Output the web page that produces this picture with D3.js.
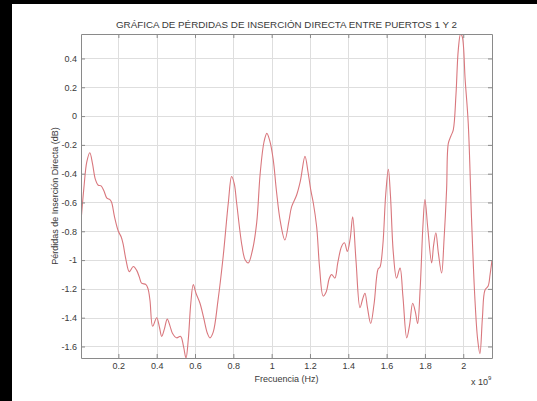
<!DOCTYPE html>
<html>
<head>
<meta charset="utf-8">
<script src="https://cdn.jsdelivr.net/npm/d3@7"></script>
<style>
  html, body { margin: 0; padding: 0; background: #fff; }
  svg { display: block; }
  text { font-family: "Liberation Sans", Arial, sans-serif; fill: #3a3a3a; }
</style>
</head>
<body>
<svg id="chart" width="537" height="401"></svg>
<script>
// Frequency samples (x 10^9 Hz)
const freq = [
  0.005, 0.02, 0.035, 0.051, 0.065, 0.08, 0.095, 0.11, 0.125, 0.14,
  0.156, 0.165, 0.18, 0.2, 0.215, 0.225, 0.24, 0.257, 0.278, 0.295,
  0.31, 0.321, 0.344, 0.355, 0.365, 0.379, 0.4, 0.415, 0.426, 0.44,
  0.455, 0.47, 0.483, 0.504, 0.525, 0.54, 0.553, 0.565, 0.578, 0.591,
  0.605, 0.626, 0.645, 0.665, 0.678, 0.695, 0.72, 0.747, 0.774, 0.791,
  0.805, 0.817, 0.845, 0.862, 0.878, 0.9, 0.922, 0.94, 0.96, 0.975,
  0.99, 1.008, 1.025, 1.045, 1.069, 1.09, 1.104, 1.13, 1.15, 1.174,
  1.19, 1.205, 1.217, 1.235, 1.25, 1.269, 1.285, 1.3, 1.313, 1.33,
  1.345, 1.365, 1.38, 1.395, 1.41, 1.423, 1.44, 1.461, 1.475, 1.487,
  1.5, 1.517, 1.535, 1.556, 1.565, 1.58, 1.595, 1.609, 1.62, 1.635,
  1.652, 1.67, 1.685, 1.705, 1.72, 1.736, 1.75, 1.762, 1.775, 1.79,
  1.8, 1.815, 1.835, 1.845, 1.857, 1.87, 1.887, 1.9, 1.913, 1.922,
  1.935, 1.948, 1.962, 1.974, 1.986, 1.995, 2.01, 2.026, 2.044, 2.06,
  2.075, 2.087, 2.1, 2.113, 2.13, 2.14, 2.15
];

// Forward insertion loss between ports 1 and 2 (dB)
const insertionLoss = [
  -0.73, -0.50, -0.32, -0.255, -0.33, -0.44, -0.48, -0.485, -0.52, -0.57,
  -0.58, -0.60, -0.70, -0.80, -0.84, -0.89, -1.00, -1.08, -1.045, -1.07,
  -1.12, -1.16, -1.17, -1.20, -1.28, -1.46, -1.40, -1.47, -1.53, -1.48,
  -1.41, -1.46, -1.51, -1.54, -1.53, -1.60, -1.68, -1.55, -1.30, -1.17,
  -1.23, -1.30, -1.40, -1.51, -1.54, -1.50, -1.28, -0.975, -0.60, -0.42,
  -0.47, -0.60, -0.90, -1.00, -1.02, -0.93, -0.74, -0.40, -0.18, -0.12,
  -0.17, -0.30, -0.52, -0.73, -0.86, -0.73, -0.63, -0.55, -0.45, -0.28,
  -0.39, -0.52, -0.60, -0.77, -1.05, -1.25, -1.22, -1.13, -1.10, -1.125,
  -1.02, -0.905, -0.88, -0.94, -0.85, -0.70, -1.00, -1.33, -1.27, -1.23,
  -1.33, -1.44, -1.30, -1.06, -1.05, -0.90, -0.55, -0.37, -0.55, -0.95,
  -1.125, -1.055, -1.25, -1.54, -1.45, -1.30, -1.36, -1.44, -1.20, -0.75,
  -0.58, -0.78, -1.02, -0.90, -0.81, -0.95, -1.09, -0.85, -0.51, -0.19,
  -0.14, -0.095, 0.15, 0.46, 0.57, 0.55, 0.25, -0.05, -0.74, -1.25,
  -1.55, -1.65, -1.40, -1.21, -1.18, -1.10, -1.00
];

const xTicks = [0.2, 0.4, 0.6, 0.8, 1, 1.2, 1.4, 1.6, 1.8, 2];
const yTicks = [-1.6, -1.4, -1.2, -1, -0.8, -0.6, -0.4, -0.2, 0, 0.2, 0.4];

const titleText = "GRÁFICA DE PÉRDIDAS DE INSERCIÓN DIRECTA ENTRE PUERTOS 1 Y 2";
const xLabel = "Frecuencia (Hz)";
const yLabel = "Pérdidas de Inserción Directa (dB)";

const W = 537, H = 401;
const plot = { left: 81, right: 492, top: 34, bottom: 358 };

const svg = d3.select("#chart");

// Figure frame: dark strips on the left and top
svg.append("rect").attr("x", 0).attr("y", 0).attr("width", W).attr("height", H).attr("fill", "#fff");
svg.append("rect").attr("x", 0).attr("y", 0).attr("width", 12).attr("height", H).attr("fill", "#000");
svg.append("rect").attr("x", 0).attr("y", 0).attr("width", W).attr("height", 4).attr("fill", "#000");

const x = d3.scaleLinear().domain(d3.extent(freq)).range([plot.left, plot.right]);
const y = d3.scaleLinear().domain(d3.extent(insertionLoss)).range([plot.bottom, plot.top]);

// Grid
const grid = svg.append("g").attr("stroke", "#dedede").attr("stroke-width", 1);
grid.selectAll(".gx").data(xTicks).join("line")
  .attr("x1", d => Math.round(x(d)) + 0.5).attr("x2", d => Math.round(x(d)) + 0.5)
  .attr("y1", plot.top).attr("y2", plot.bottom);
grid.selectAll(".gy").data(yTicks).join("line")
  .attr("y1", d => Math.round(y(d)) + 0.5).attr("y2", d => Math.round(y(d)) + 0.5)
  .attr("x1", plot.left).attr("x2", plot.right);

// Data line
svg.append("clipPath").attr("id", "clip").append("rect")
  .attr("x", plot.left).attr("y", plot.top)
  .attr("width", plot.right - plot.left).attr("height", plot.bottom - plot.top);

const line = d3.line()
  .x((d, i) => x(freq[i]))
  .y(d => y(d))
  .curve(d3.curveCatmullRom.alpha(0.5));

svg.append("path")
  .datum(insertionLoss)
  .attr("clip-path", "url(#clip)")
  .attr("fill", "none")
  .attr("stroke", "#d9777d")
  .attr("stroke-width", 1.1)
  .attr("d", line);

// Axes (ticks pointing inward, box on all sides)
const tickLen = 4;
const axisColor = "#8a8a8a";
const fmt = d => d3.format("~g")(d).replace("−", "-");

const xAxis = svg.append("g").attr("transform", `translate(0,${plot.bottom})`)
  .call(d3.axisBottom(x).tickValues(xTicks).tickSizeInner(-tickLen).tickSizeOuter(0).tickPadding(5)
    .tickFormat(fmt));
const xAxisTop = svg.append("g").attr("transform", `translate(0,${plot.top})`)
  .call(d3.axisTop(x).tickValues(xTicks).tickSizeInner(-tickLen).tickSizeOuter(0).tickFormat(""));
const yAxis = svg.append("g").attr("transform", `translate(${plot.left},0)`)
  .call(d3.axisLeft(y).tickValues(yTicks).tickSizeInner(-tickLen).tickSizeOuter(0).tickPadding(4)
    .tickFormat(fmt));
const yAxisRight = svg.append("g").attr("transform", `translate(${plot.right},0)`)
  .call(d3.axisRight(y).tickValues(yTicks).tickSizeInner(-tickLen).tickSizeOuter(0).tickFormat(""));

[xAxis, xAxisTop, yAxis, yAxisRight].forEach(g => {
  g.select(".domain").attr("stroke", axisColor);
  g.selectAll(".tick line").attr("stroke", axisColor);
  g.selectAll(".tick text").attr("font-size", 9).attr("fill", "#3a3a3a")
    .attr("font-family", "'Liberation Sans', Arial, sans-serif");
});

// Titles
svg.append("text")
  .attr("x", (plot.left + plot.right) / 2).attr("y", 27.5)
  .attr("text-anchor", "middle").attr("font-size", 9.8)
  .text(titleText);

svg.append("text")
  .attr("x", (plot.left + plot.right) / 2).attr("y", 382)
  .attr("text-anchor", "middle").attr("font-size", 9)
  .text(xLabel);

svg.append("text")
  .attr("transform", `translate(58,${(plot.top + plot.bottom) / 2}) rotate(-90)`)
  .attr("text-anchor", "middle").attr("font-size", 9)
  .text(yLabel);

// Exponent of the frequency axis
const expo = svg.append("text").attr("x", 471).attr("y", 385).attr("font-size", 9);
expo.append("tspan").text("x 10");
expo.append("tspan").attr("dy", -5).attr("font-size", 6).text("9");
</script>
</body>
</html>
